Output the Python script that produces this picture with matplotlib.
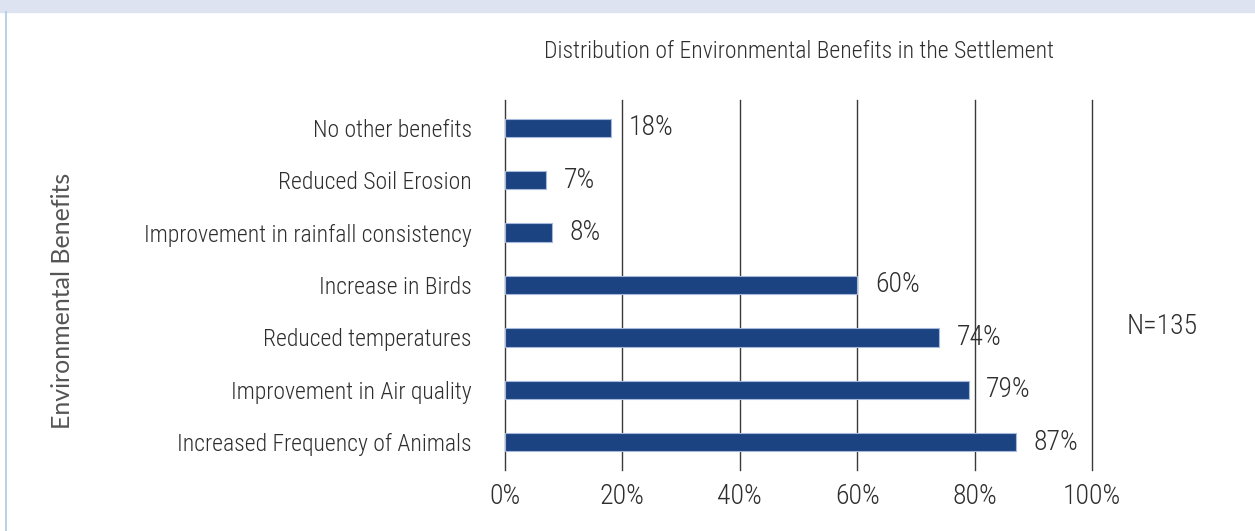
import matplotlib.pyplot as plt
from matplotlib import font_manager

benefits = [
    "No other benefits",
    "Reduced Soil Erosion",
    "Improvement in rainfall consistency",
    "Increase in Birds",
    "Reduced temperatures",
    "Improvement in Air quality",
    "Increased Frequency of Animals",
]
shares = [18, 7, 8, 60, 74, 79, 87]
ticks = [0, 20, 40, 60, 80, 100]

names = {f.name for f in font_manager.fontManager.ttflist}
font = next((n for n in ["Roboto Condensed", "Liberation Sans Narrow", "Liberation Sans"]
             if n in names), "DejaVu Sans")
side_font = "Lato" if "Lato" in names else font
plt.rcParams["font.family"] = [font, "DejaVu Sans"]
plt.rcParams["font.weight"] = "light"

fig = plt.figure(figsize=(12.55, 5.31), dpi=100)

# header band and left rule
fig.patches.append(plt.Rectangle((0, 1 - 12 / 531), 1, 12 / 531, transform=fig.transFigure,
                                 color="#dde3f0", zorder=0))
fig.lines.append(plt.Line2D([6 / 1255, 6 / 1255], [0, 1 - 12 / 531], transform=fig.transFigure,
                            color="#a9cbe9", lw=1.2))

ax = fig.add_axes([505 / 1255, 1 - 470 / 531, 587 / 1255, 370 / 531])

pos = list(range(len(benefits)))
ax.barh(pos, shares, height=0.35, color="#1c4381", edgecolor="#a6b9dc", linewidth=0.8, zorder=3)
for p, v in zip(pos, shares):
    ax.text(v + 3, p, f"{v}%", va="center", ha="left", fontsize=20, color="#2e2e2e", zorder=4)

ax.set_xlim(0, 100)
ax.set_ylim(6.53, -0.53)
ax.set_xticks(ticks)
ax.set_xticklabels([f"{t}%" for t in ticks], fontsize=20, color="#2e2e2e")
ax.set_yticks(pos)
ax.set_yticklabels(benefits, fontsize=17, color="#2e2e2e")
ax.tick_params(length=0, pad=24, axis="y")
ax.tick_params(length=0, pad=9, axis="x")
for s in ax.spines.values():
    s.set_visible(False)
for t in ticks:
    ax.axvline(t, color="#3a3a3a", lw=1, zorder=1, clip_on=False)

ax.set_title("Distribution of Environmental Benefits in the Settlement", fontsize=17,
             color="#2e2e2e", pad=30, fontweight="light")
fig.text(62 / 1255, 1 - 301 / 531, "Environmental Benefits", rotation=90, va="center",
         ha="center", fontsize=18, color="#555555", family=[side_font, "DejaVu Sans"],
         fontweight="normal")
fig.text(1162 / 1255, 1 - 327 / 531, "N=135", va="center", ha="center", fontsize=20,
         color="#2e2e2e")

fig.savefig("out.png", dpi=100)
